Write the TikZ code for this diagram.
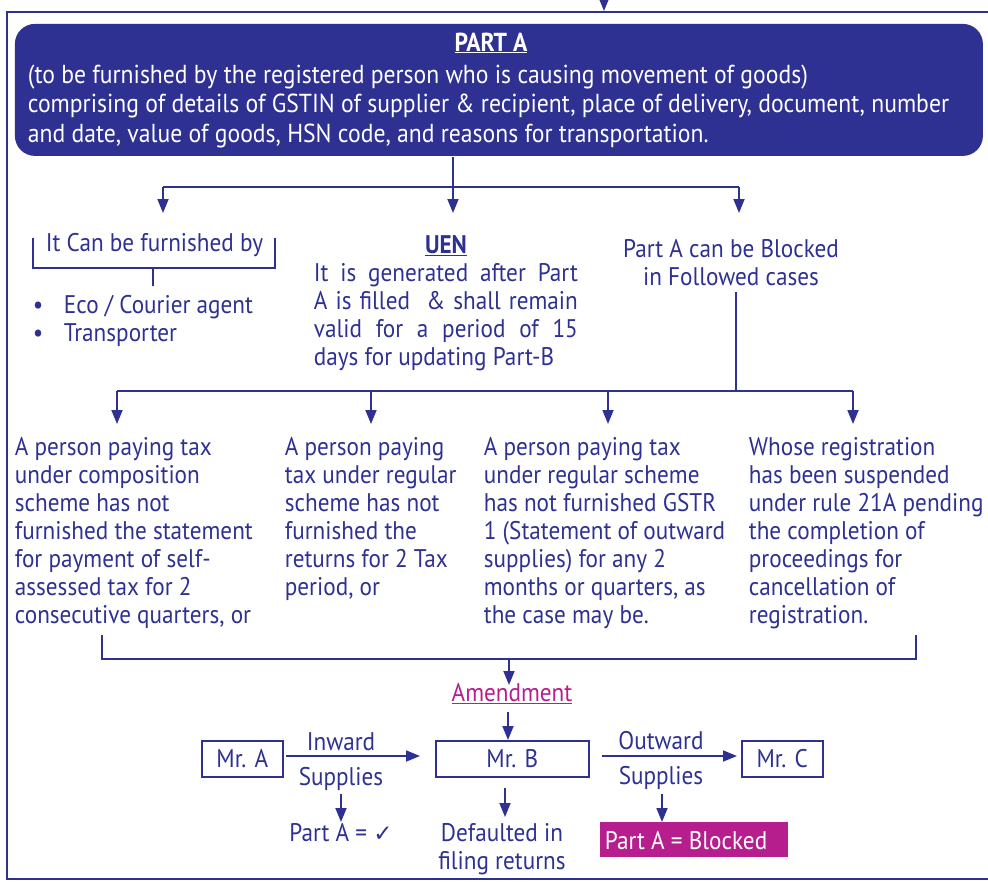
\documentclass[tikz,border=0pt]{standalone}
\usepackage{fontspec}
\setmainfont{PT Sans}[FakeStretch=0.91]
\newfontfamily\symfont{DejaVu Sans}
\usetikzlibrary{arrows.meta}
\definecolor{gblue}{RGB}{46,49,146}
\definecolor{gmag}{RGB}{181,30,140}
\begin{document}
\begin{tikzpicture}[x=1pt,y=-1pt,line width=1.8pt,
  txt/.style={inner sep=0pt,text=gblue,font=\fontsize{25.5}{28}\selectfont,align=left},
  wtxt/.style={inner sep=0pt,text=white,font=\fontsize{26}{29.7}\selectfont,align=left},
  ln/.style={draw=gblue},
  arr/.style={draw=gblue,-{Triangle[length=14pt,width=11pt]}},
  mrbox/.style={draw=gblue,line width=1.6pt,inner sep=0pt,anchor=north west,text=gblue,font=\fontsize{25.5}{28}\selectfont}]
\useasboundingbox (0,0) rectangle (988,881);
% outer frame
\coordinate (ftr) at (988,12);
\coordinate (ftl) at (7,12);
\coordinate (fbl) at (7,879);
\coordinate (fbr) at (988,879);
\draw[ln] (ftr) -- (ftl) -- (fbl) -- (fbr);
\coordinate (topin) at (604,-2);
\coordinate (topout) at (604,11);
\draw[arr] (topin) -- (topout);
% Part A box
\node[fill=gblue,rounded corners=20pt,minimum width=968pt,minimum height=132pt,anchor=north west,inner sep=0pt] (parta) at (14,23) {};
\node[wtxt,anchor=base,font=\fontsize{26}{29.7}\selectfont\bfseries] (partat) at (491,51) {\underline{PART A}};
\node[wtxt,anchor=base west] (partab) at (27,142.4) {(to be furnished by the registered person who is causing movement of goods)\\comprising of details of GSTIN of supplier \& recipient, place of delivery, document, number\\and date, value of goods, HSN code, and reasons for transportation.};
% first split
\coordinate (j1) at (453,187);
\coordinate (jl) at (163,187);
\coordinate (jr) at (739,187);
\coordinate (al) at (163,213);
\coordinate (am) at (453,213);
\coordinate (ar) at (739,213);
\draw[ln] (j1 |- parta.south) -- (j1);
\draw[ln] (jl) -- (jr);
\draw[arr] (jl) -- (al);
\draw[arr] (j1) -- (am);
\draw[arr] (jr) -- (ar);
% furnished by
\node[txt,anchor=base west] (furn) at (45,251) {It Can be furnished by};
\coordinate (b1) at (33,238);
\coordinate (b2) at (33,268);
\coordinate (b3) at (275,268);
\coordinate (b4) at (275,238);
\coordinate (s1) at (153,268);
\coordinate (s2) at (153,286);
\draw[ln] (b1) -- (b2) -- (b3) -- (b4);
\draw[ln] (s1) -- (s2);
\node[txt,anchor=base west] (bul) at (32,341) {\makebox[31pt][l]{\textbullet}Eco / Courier agent\\\makebox[31pt][l]{\textbullet}Transporter};
% UEN
\node[txt,anchor=base,font=\fontsize{25.5}{28}\selectfont\bfseries] (uen) at (446,253) {\underline{UEN}};
\node[txt,anchor=base west,text width=264pt,align=justify] (uent) at (313,281) {It is generated after Part\linebreak A is filled ~\& shall remain\linebreak valid for a period of 15\linebreak days for updating Part-B};
% blocked
\node[txt,anchor=base,align=center] (blk) at (731,285) {Part A can be Blocked\\in Followed cases};
\coordinate (v1) at (736,292);
\coordinate (v2) at (736,391);
\coordinate (h1) at (117,391);
\coordinate (h2) at (371,391);
\coordinate (h3) at (608,391);
\coordinate (h4) at (853,391);
\coordinate (e1) at (117,424);
\coordinate (e2) at (371,424);
\coordinate (e3) at (608,424);
\coordinate (e4) at (853,424);
\draw[ln] (v1) -- (v2);
\draw[ln] (h1) -- (h4);
\draw[arr] (h1) -- (e1);
\draw[arr] (h2) -- (e2);
\draw[arr] (h3) -- (e3);
\draw[arr] (h4) -- (e4);
% four cases
\node[txt,anchor=base west] (c1) at (14,623) {A person paying tax\\under composition\\scheme has not\\furnished the statement\\for payment of self-\\assessed tax for 2\\consecutive quarters, or};
\node[txt,anchor=base west] (c2) at (284,595) {A person paying\\tax under regular\\scheme has not\\furnished the\\returns for 2 Tax\\period, or};
\node[txt,anchor=base west] (c3) at (483,623) {A person paying tax\\under regular scheme\\has not furnished GSTR\\1 (Statement of outward\\supplies) for any 2\\months or quarters, as\\the case may be.};
\node[txt,anchor=base west] (c4) at (748,623) {Whose registration\\has been suspended\\under rule 21A pending\\the completion of\\proceedings for\\cancellation of\\registration.};
% bottom bracket
\coordinate (k1) at (102,635);
\coordinate (k2) at (102,659);
\coordinate (k3) at (916,659);
\coordinate (k4) at (916,635);
\coordinate (k5) at (509,659);
\coordinate (k6) at (509,685);
\draw[ln] (k1) -- (k2) -- (k3) -- (k4);
\draw[arr] (k5) -- (k6);
% amendment
\node[txt,anchor=base,text=gmag] (amd) at (512,701) {\underline{Amendment}};
% Mr boxes
\node[mrbox,minimum width=81pt,minimum height=36pt] (mra) at (201,740) {Mr. A};
\node[mrbox,minimum width=153pt,minimum height=36pt] (mrb) at (435,740) {Mr. B};
\node[mrbox,minimum width=81pt,minimum height=36pt] (mrc) at (741,740) {Mr. C};
\coordinate (m1) at (508,712);
\draw[arr] (m1) -- (mrb.north -| m1);
% inward
\coordinate (ia) at (286,756);
\coordinate (ib) at (420,756);
\draw[arr] (ia) -- (ib);
\node[txt,anchor=base] (inw) at (341,750) {Inward};
\node[txt,anchor=base] (sup1) at (341,785) {Supplies};
\coordinate (ic) at (341,794);
\coordinate (id) at (341,822);
\draw[arr] (ic) -- (id);
\node[txt,anchor=base] (pok) at (341,841) {Part A = {\symfont\fontsize{23}{24}\selectfont ✓}};
% Mr B down
\coordinate (bd1) at (505,788);
\coordinate (bd2) at (505,817);
\draw[arr] (bd1) -- (bd2);
\node[txt,anchor=base,align=center] (dft) at (502,869) {Defaulted in\\filing returns};
% outward
\coordinate (oa) at (602,756);
\coordinate (ob) at (737,756);
\draw[arr] (oa) -- (ob);
\node[txt,anchor=base] (outw) at (661,749) {Outward};
\node[txt,anchor=base] (sup2) at (661,784) {Supplies};
\coordinate (oc) at (662,794);
\coordinate (od) at (662,822);
\draw[arr] (oc) -- (od);
\node[fill=gmag,anchor=north west,minimum width=188pt,minimum height=35pt,inner sep=0pt] (pblk) at (599,821) {};
\node[wtxt,anchor=base west,font=\fontsize{25.5}{28}\selectfont] (pblkt) at (604,849) {Part A = Blocked};
\end{tikzpicture}
\end{document}
